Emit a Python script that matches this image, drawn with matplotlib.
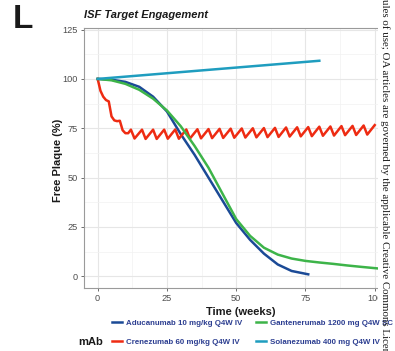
import numpy as np
import matplotlib
matplotlib.use("Agg")
import matplotlib.pyplot as plt
from matplotlib.patches import Rectangle

plt.rcParams['font.family'] = ['Liberation Sans', 'DejaVu Sans']

# simulated free plaque (% of baseline) per antibody
adu_wk = [0, 5, 10, 15, 20, 25, 30, 35, 40, 45, 50, 55, 60, 65, 70, 76]
adu_free = [100, 99.6, 98.5, 96, 91, 83.5, 72, 61.5, 50, 38.5, 27, 18.5, 11.5, 6, 2.7, 1]

gan_wk = [0, 5, 10, 15, 20, 25, 30, 35, 40, 45, 50, 55, 60, 65, 70, 75, 80, 85, 90, 95, 101]
gan_free = [100, 99.3, 97.5, 94.5, 90, 84, 76, 66, 55, 42, 29, 20.5, 14.5, 11, 9, 7.8, 7, 6.3, 5.5, 4.8, 4]

sol_wk = [0, 80]
sol_free = [100, 109.2]

# crenezumab: loading phase, then pre-dose peaks / post-dose troughs every 4 weeks
cren_early_wk = [0, 1, 2, 3, 4, 5, 6, 7, 8, 9, 10, 11]
cren_early = [100, 94, 91, 89.3, 88.6, 81, 79, 78.6, 78.8, 74, 72.5, 72.5]
cren_dose_wk = list(range(12, 101, 4))
cren_peak = [74.3, 74.3, 74.3, 74.3, 74.4, 74.4, 74.5, 74.6, 74.7, 74.8, 74.9, 75.0,
             75.1, 75.2, 75.4, 75.5, 75.6, 75.8, 75.9, 76.1, 76.2, 76.4, 76.6]
cren_trough = [69.8, 69.6, 69.6, 69.7, 69.7, 69.8, 69.9, 70.0, 70.1, 70.2, 70.3,
               70.4, 70.5, 70.6, 70.8, 70.9, 71.0, 71.2, 71.3, 71.5, 71.6, 71.8]

labels = ["Aducanumab 10 mg/kg Q4W IV", "Crenezumab 60 mg/kg Q4W IV",
          "Gantenerumab 1200 mg Q4W SC", "Solanezumab 400 mg Q4W IV"]
colors = ["#1b4a96", "#ee2b12", "#3db449", "#1f9dbf"]

cren_wk = list(cren_early_wk)
cren_free = list(cren_early)
for i, d in enumerate(cren_dose_wk):
    cren_wk.append(d)
    cren_free.append(cren_peak[i])
    if i < len(cren_trough):
        cren_wk.append(d + 1.3)
        cren_free.append(cren_trough[i])

W, H = 395, 351
fig = plt.figure(figsize=(W / 100, H / 100), dpi=100)
ax = fig.add_axes([84 / W, 1 - 288.3 / H, (393 - 84) / W, (288.3 - 28) / H])

series = [(adu_wk, adu_free), (cren_wk, cren_free), (gan_wk, gan_free), (sol_wk, sol_free)]
handles = []
for (x, y), lab, c in zip(series, labels, colors):
    ln, = ax.plot(x, y, color=c, lw=1.8, label=lab, solid_joinstyle='round')
    handles.append(ln)

ax.set_xlim(-4.94, 106.6)
ax.set_ylim(-6.08, 125.8)
ax.set_xticks([0, 25, 50, 75, 100])
ax.set_yticks([0, 25, 50, 75, 100, 125])
ax.set_xticks([12.5, 37.5, 62.5, 87.5], minor=True)
ax.set_yticks([12.5, 37.5, 62.5, 87.5, 112.5], minor=True)
ax.grid(True, which='major', color='#e6e6e6', lw=0.8)
ax.grid(True, which='minor', color='#f2f2f2', lw=0.5)
ax.set_axisbelow(True)
ax.tick_params(which='major', length=2.2, width=0.6, color='#555555',
               labelsize=6.6, labelcolor='#4d4d4d', pad=2)
ax.tick_params(which='minor', length=0)
for s in ['left', 'bottom', 'top']:
    ax.spines[s].set_color('#9a9a9a')
    ax.spines[s].set_linewidth(0.8)
ax.spines['right'].set_visible(False)

fig.text(58 / W, 1 - 160 / H, "Free Plaque (%)", rotation=90, fontsize=8,
         fontweight='bold', ha='center', va='center', color='#1a1a1a')
fig.text(241 / W, 1 - 312 / H, "Time (weeks)", fontsize=8, fontweight='bold',
         ha='center', va='center', color='#1a1a1a')
fig.text(84 / W, 1 - 15 / H, "ISF Target Engagement", fontsize=8,
         fontweight='bold', fontstyle='italic', ha='left', va='center', color='#1a1a1a')
fig.text(13 / W, 1 - 20 / H, "L", fontsize=24, fontweight='bold',
         ha='left', va='center', color='#1a1a1a')

fig.text(78 / W, 1 - 342 / H, "mAb", fontsize=8, fontweight='bold',
         ha='left', va='center', color='#1a1a1a')
fig.legend(handles=handles, ncol=2, loc='upper left',
           bbox_to_anchor=(112 / W, 1 - 319 / H), frameon=False,
           borderpad=0, borderaxespad=0, handlelength=1.3, handletextpad=0.5,
           columnspacing=1.7, labelspacing=1.45, labelcolor='#2c3e91',
           prop={'weight': 'bold', 'size': 5.7})

# side strip with the journal notice
fig.patches.append(Rectangle((378 / W, 0), 1, 1, transform=fig.transFigure,
                             facecolor='white', edgecolor='none', zorder=5))
fig.text(384.5 / W, 1.003, "ules of use; OA articles are governed by the applicable Creative Commons License",
         rotation=-90, fontsize=7.8, family='Liberation Serif', ha='center', va='top',
         color='#1a1a1a', zorder=6)

fig.savefig("out.png", dpi=100)
